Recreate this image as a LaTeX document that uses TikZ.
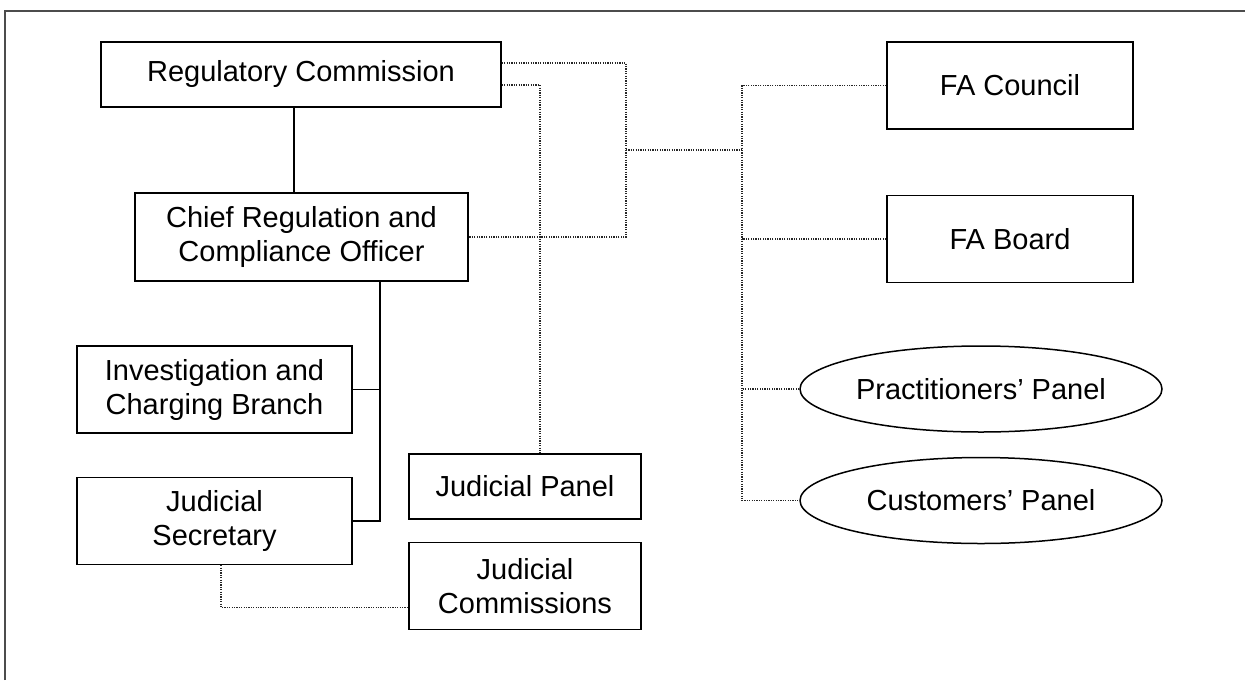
\documentclass[tikz,border=0pt]{standalone}
\usepackage{fontspec}
\setmainfont{Liberation Sans}
\usetikzlibrary{positioning,shapes.geometric,calc}
\tikzset{
	x=0.5pt, y=-0.5pt,
	every node/.style={font=\fontsize{14.5}{17}\selectfont, align=center, inner sep=0pt},
	unit/.style={draw, rectangle, line width=0.75pt},
	panel/.style={draw, ellipse, line width=0.75pt, minimum width=181pt, minimum height=43pt},
	chain/.style={line width=0.7pt},
	link/.style={line width=0.6pt, black!85, dash pattern=on 0.6pt off 0.6pt},
	frame/.style={line width=0.6pt, black!70},
}
\begin{document}
\begin{tikzpicture}
	\useasboundingbox (0,0) rectangle (1245,680);
	\draw[frame] (5,680) |- (1245,11);
	% left column
	\node[unit, minimum width=200pt, minimum height=32.5pt] (rc) at (301,74.5) {Regulatory Commission};
	\node[unit, minimum width=166.5pt, minimum height=44pt] (cro) at (301.5,237) {Chief Regulation and\\Compliance Officer};
	\node[unit, minimum width=137.5pt, minimum height=43.5pt] (icb) at (214.5,389.5) {Investigation and\\Charging Branch};
	\node[unit, minimum width=137.5pt, minimum height=43.5pt, below=21.5pt of icb] (js) {Judicial\\Secretary};
	\node[unit, minimum width=116pt, minimum height=32.5pt] (jp) at (525,486.5) {Judicial Panel};
	\node[unit, minimum width=116pt, minimum height=43.5pt, below=11pt of jp] (jc) {Judicial\\Commissions};
	% right column
	\node[unit, minimum width=123pt, minimum height=43.5pt] (fac) at (1010,85.5) {FA Council};
	\node[unit, minimum width=123pt, minimum height=43.5pt, below=32.5pt of fac] (fab) {FA Board};
	\node[panel] (pp) at (981,389) {Practitioners' Panel};
	\node[panel, below=12pt of pp] (cp) {Customers' Panel};
	% solid lines
	\draw[chain] ([xshift=-3.5pt]rc.south) -- ([xshift=-3.5pt]rc.south |- cro.north);
	\coordinate (cb) at ([xshift=39.25pt]cro.south);
	\draw[chain] (cb) |- (js.east);
	\draw[chain] (icb.east) -- (icb.east -| cb);
	% dotted lines
	\coordinate (j1) at (626,150);
	\coordinate (j2) at (742,150);
	\draw[link] ([yshift=5.75pt]rc.east) -| (j1) |- (cro.east);
	\draw[link] ([yshift=-5.25pt]rc.east) -| ([xshift=7.5pt]jp.north);
	\draw[link] (j1) -- (j2);
	\draw[link] (fac.west) -| (j2 |- cp.west) -- (cp.west);
	\draw[link] (fab.west) -- (fab.west -| j2);
	\draw[link] (pp.west) -- (pp.west -| j2);
	\draw[link] ([xshift=3.25pt]js.south) |- ([yshift=-10.75pt]jc.west);
\end{tikzpicture}
\end{document}
